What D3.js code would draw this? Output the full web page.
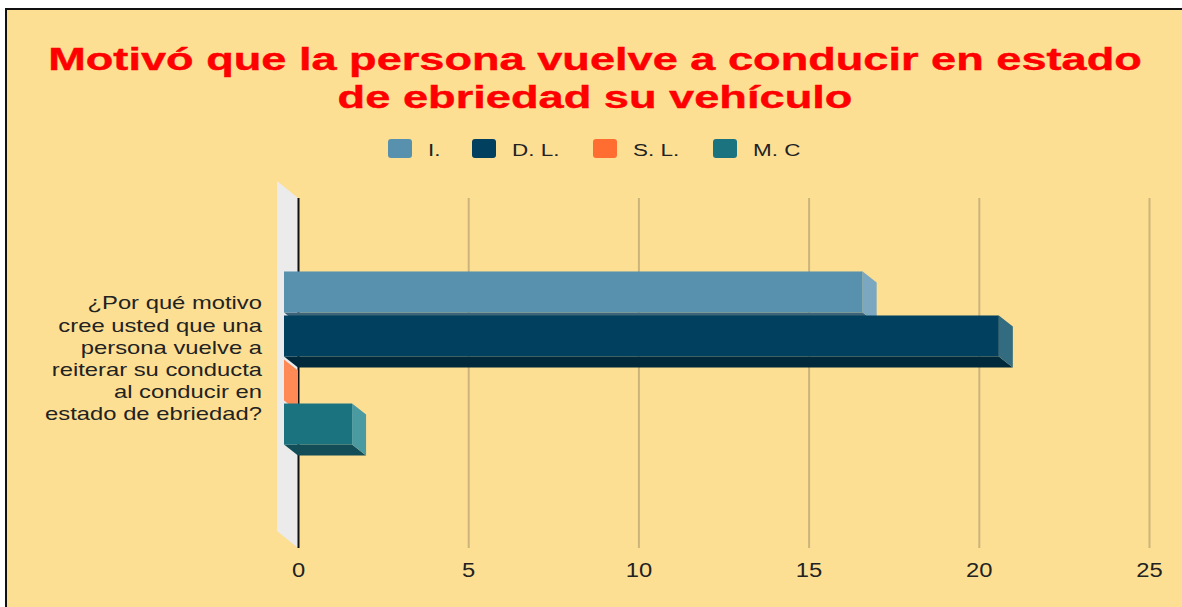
<!DOCTYPE html>
<html>
<head>
<meta charset="utf-8">
<script src="https://cdn.jsdelivr.net/npm/d3@7"></script>
<style>
  body { margin: 0; background: #fff; }
  text { font-family: "Liberation Sans", Arial, sans-serif; }
</style>
</head>
<body>
<svg id="chart"></svg>
<script>
// data
const titleLines = ["Motivó que la persona vuelve a conducir en estado", "de ebriedad su vehículo"];
const categories = ["q1"];
const categoryLines = ["¿Por qué motivo", "cree usted que una", "persona vuelve a", "reiterar su conducta", "al conducir en", "estado de ebriedad?"];
const series = ["I.", "D. L.", "S. L.", "M. C"];
const values = [17, 21, 0, 2];
const ticks = [0, 5, 10, 15, 20, 25];

// front / side / bottom face colours per series
const frontColors = ["#5891ad", "#01415f", "#ff6d31", "#1b7380"];
const sideColors = ["#7ba8c0", "#336b80", "#ff8a56", "#4a9aa2"];
const bottomColors = ["#3d6478", "#00293b", "#c4501f", "#134d57"];

let width = 1182, height = 607;
let stretch = 1.36; // the picture's text is drawn wider than normal
let svg = d3.select("#chart").attr("width", width).attr("height", height);

// background + frame
svg.append("rect").attr("x", 5).attr("y", 8).attr("width", width).attr("height", height)
  .attr("fill", "#fddf93");
svg.append("path").attr("d", "M6,607 V9 H1182").attr("fill", "none")
  .attr("stroke", "#111").attr("stroke-width", 2);

// title: centred, stretched horizontally to the width seen in the picture
let titleWidths = [1094, 515];
let titleY = [70, 108];
titleLines.forEach(function(line, i) {
  let t = svg.append("text").text(line).attr("x", 0).attr("y", 0)
    .attr("text-anchor", "middle").attr("fill", "#ff0000")
    .attr("font-size", 30.5).attr("font-weight", "bold")
    .attr("stroke", "#ff0000").attr("stroke-width", 0.4);
  let sx = titleWidths[i] / t.node().getComputedTextLength();
  t.attr("transform", translate(595, titleY[i]) + " scale(" + sx + ",1)");
});

// legend
let legendX = [388, 472, 593, 713];
let legend = svg.append("g").selectAll("g").data(series).enter().append("g")
  .attr("transform", (d, i) => translate(legendX[i], 139));
legend.append("rect").attr("width", 24).attr("height", 19).attr("rx", 3)
  .attr("fill", (d, i) => frontColors[i]);
legend.append("text").text(d => d)
  .attr("transform", translate(40, 16.5) + " scale(" + stretch + ",1)")
  .attr("font-size", 16.5).attr("fill", "#222");

// scales (back plane)
let x = d3.scaleLinear().domain([0, 25]).range([298, 1149]);
let plotTop = 198, plotBottom = 548;
let y = d3.scaleBand().domain(categories).range([plotTop - 4, plotBottom - 4]).paddingOuter(0.494).paddingInner(0);
let ySeries = d3.scaleBand().domain(series).range([0, y.bandwidth()]).paddingInner(0.068).paddingOuter(0.034);

// 3d depths
let dx = 14, dy = 11;     // bars
let wx = 21, wy = 17;     // wall

let plot = svg.append("g");

// wall
plot.append("path")
  .attr("d", `M${x(0) - wx},${plotTop - wy} L${x(0)},${plotTop} L${x(0)},${plotBottom} L${x(0) - wx},${plotBottom - wy} Z`)
  .attr("fill", "#ebebeb");

// gridlines + axis labels
let axis = d3.axisBottom(x).tickValues(ticks).tickSize(-(plotBottom - plotTop)).tickPadding(0);
let ax = plot.append("g").attr("transform", translate(0, plotBottom)).call(axis);
ax.select(".domain").remove();
ax.selectAll(".tick line").attr("stroke", d => d === 0 ? "#111" : "#cbb57b")
  .attr("stroke-width", 2);
ax.selectAll(".tick text").attr("font-size", 19.5).attr("fill", "#222")
  .attr("font-family", "Liberation Sans, Arial, sans-serif")
  .attr("y", 0).attr("dy", 0)
  .attr("transform", "translate(0,29) scale(1.22,1)");

// bars
let bars = plot.append("g").selectAll("g").data(values).enter().append("g");
bars.each(function(v, i) {
  let g = d3.select(this);
  let y0 = y(categories[0]) + ySeries(series[i]) - dy;
  let h = ySeries.bandwidth();
  let x0 = x(0) - dx, x1 = x(v) - dx;
  // bottom face
  g.append("path")
    .attr("d", `M${x0},${y0 + h} L${x1},${y0 + h} L${x1 + dx},${y0 + h + dy} L${x0 + dx},${y0 + h + dy} Z`)
    .attr("fill", bottomColors[i]);
  // front face
  g.append("rect").attr("x", x0).attr("y", y0).attr("width", x1 - x0).attr("height", h)
    .attr("fill", frontColors[i]);
  // side face
  g.append("path")
    .attr("d", `M${x1},${y0} L${x1 + dx},${y0 + dy} L${x1 + dx},${y0 + h + dy} L${x1},${y0 + h} Z`)
    .attr("fill", sideColors[i]);
});

// category label
let label = svg.append("text").attr("text-anchor", "end").attr("font-size", 17.5).attr("fill", "#222")
  .attr("transform", translate(262, 0) + " scale(" + stretch + ",1)");
label.selectAll("tspan").data(categoryLines).enter().append("tspan")
  .attr("x", 0).attr("y", (d, i) => 309.5 + i * 22.2).text(d => d);

function translate(x, y) {
  return 'translate(' + String(x) + ',' + String(y) + ')';
}
</script>
</body>
</html>
